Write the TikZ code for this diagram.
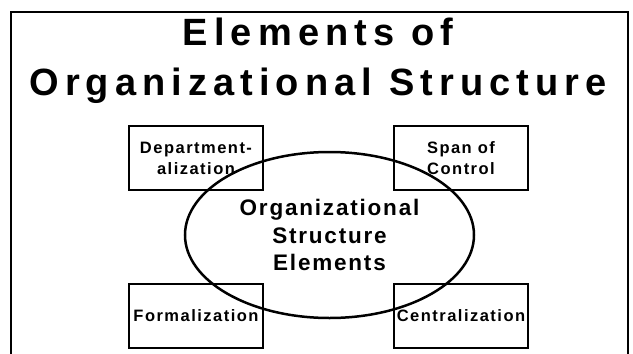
\documentclass[tikz,border=0pt]{standalone}
\usepackage{fontspec}
\setmainfont{Liberation Sans}
\newfontfamily\titlefont[LetterSpace=16]{Liberation Sans}
\newfontfamily\ovalfont[LetterSpace=8]{Liberation Sans}
\newfontfamily\boxfont[LetterSpace=9]{Liberation Sans}
\usetikzlibrary{shapes.geometric}

\begin{document}
\begin{tikzpicture}[x=1pt, y=-1pt,
  elembox/.style={draw, line width=2pt, minimum width=134pt, minimum height=64pt,
    inner sep=0pt, align=center, font=\boxfont\bfseries\fontsize{16.5}{21}\selectfont},
  oval/.style={draw, ellipse, line width=2.5pt, minimum width=289pt, minimum height=166pt,
    inner sep=0pt, align=center, font=\ovalfont\bfseries\fontsize{22.5}{27.5}\selectfont}]
  \useasboundingbox (0,0) rectangle (633,354);

  % Frame
  \draw[line width=2pt] (11,354) -- (11,12) -- (628,12) -- (628,354);

  % Title
  \node[inner sep=0pt, align=center, font=\titlefont\bfseries\fontsize{38}{50}\selectfont]
    (title) at (318,61) {Elements of\\Organizational Structure};

  % Element boxes
  \node[elembox] (dept) at (196,158) {Department-\\alization};
  \node[elembox] (span) at (461,158) {Span of\\Control};
  \node[elembox] (formal) at (196,316) {Formalization};
  \node[elembox] (central) at (461,316) {Centralization};

  % Central ellipse
  \node[oval] (core) at (329.5,235) {Organizational\\Structure\\Elements};
\end{tikzpicture}
\end{document}
